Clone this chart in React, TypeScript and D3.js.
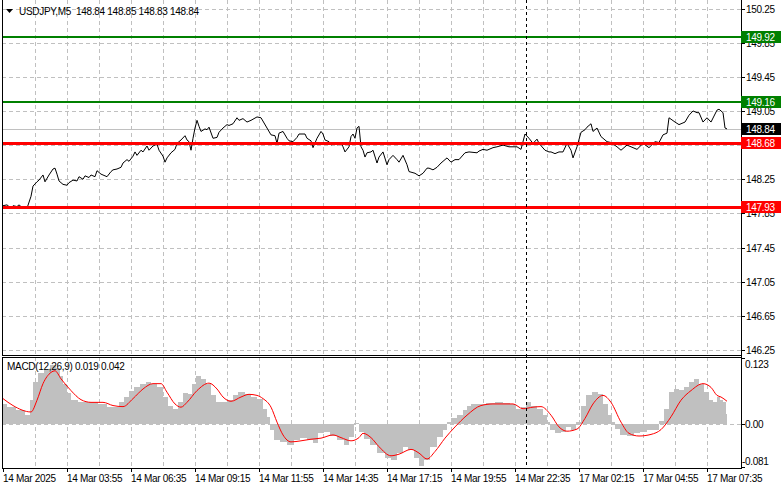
import React from 'react';
import * as d3 from 'd3';

// ---------- DATA ----------
const symbolTitle = 'USDJPY,M5';
const ohlcValues = ['148.84', '148.85', '148.83', '148.84'];
const macdTitle = 'MACD(12,26,9) 0.019 0.042';

const priceTicks = [150.25, 149.85, 149.45, 149.05, 148.65, 148.25, 147.85, 147.45, 147.05, 146.65, 146.25];
const timeLabels = [
  '14 Mar 2025', '14 Mar 03:55', '14 Mar 06:35', '14 Mar 09:15', '14 Mar 11:55', '14 Mar 14:35',
  '14 Mar 17:15', '14 Mar 19:55', '14 Mar 22:35', '17 Mar 02:15', '17 Mar 04:55', '17 Mar 07:35',
];
const timeLabelBars = [0, 32, 64, 96, 128, 160, 192, 224, 256, 288, 320, 352];
const gridBars = [16, 32, 48, 64, 80, 96, 112, 128, 144, 160, 176, 192, 208, 224, 240, 256, 272, 288, 304, 320, 336, 352];

const resistanceLevels = [149.92, 149.16];
const supportLevels = [148.68, 147.93];
const lastPrice = 148.84;
const markerBar = 261.4;

// [bar index, close]
const pricePoints: [number, number][] = [
  [0, 147.94], [2, 147.95], [4, 147.91], [5, 147.94], [7, 147.93], [8, 147.95], [10, 147.91], [11, 147.93], [12, 147.91],
  [14, 148.05], [15, 148.17], [17, 148.22], [18, 148.24], [20, 148.30], [21, 148.22], [23, 148.30], [25, 148.37], [26, 148.38],
  [27, 148.31], [28, 148.23], [30, 148.19], [32, 148.18], [33, 148.21], [35, 148.24], [37, 148.23], [38, 148.28], [40, 148.25],
  [41, 148.29], [43, 148.27], [44, 148.30], [46, 148.28], [47, 148.35], [49, 148.31], [52, 148.28], [54, 148.34], [55, 148.36],
  [57, 148.37], [59, 148.39], [60, 148.44], [62, 148.48], [63, 148.46], [65, 148.52], [66, 148.57], [67, 148.53], [69, 148.59],
  [70, 148.57], [72, 148.64], [73, 148.59], [75, 148.64], [77, 148.66], [78, 148.59], [80, 148.52], [81, 148.45], [82, 148.50],
  [84, 148.56], [86, 148.60], [87, 148.67], [89, 148.71], [91, 148.76], [92, 148.71], [93, 148.69], [94, 148.59], [95, 148.73],
  [96, 148.85], [97, 148.94], [98, 148.87], [99, 148.81], [101, 148.84], [102, 148.83], [103, 148.86], [105, 148.73], [107, 148.74],
  [108, 148.80], [110, 148.85], [112, 148.89], [113, 148.88], [115, 148.90], [117, 148.97], [118, 148.94], [120, 148.96], [122, 148.92],
  [124, 148.94], [127, 148.98], [129, 148.97], [132, 148.85], [134, 148.77], [136, 148.76], [137, 148.67], [138, 148.79], [140, 148.81],
  [142, 148.73], [143, 148.70], [145, 148.69], [147, 148.74], [148, 148.78], [151, 148.78], [152, 148.73], [154, 148.70], [155, 148.62],
  [157, 148.73], [159, 148.81], [160, 148.78], [161, 148.71], [163, 148.69], [164, 148.65], [166, 148.68], [167, 148.65], [169, 148.68],
  [170, 148.63], [171, 148.57], [173, 148.63], [174, 148.75], [175, 148.78], [176, 148.73], [177, 148.85], [178, 148.87], [179, 148.63],
  [180, 148.59], [181, 148.51], [182, 148.56], [184, 148.57], [185, 148.59], [187, 148.44], [188, 148.51], [190, 148.57], [192, 148.42],
  [193, 148.48], [195, 148.53], [197, 148.48], [198, 148.45], [200, 148.53], [202, 148.42], [203, 148.34], [206, 148.32], [208, 148.29],
  [210, 148.32], [212, 148.38], [213, 148.38], [215, 148.36], [217, 148.39], [219, 148.44], [221, 148.48], [222, 148.50], [224, 148.45],
  [226, 148.48], [228, 148.48], [231, 148.56], [233, 148.57], [237, 148.56], [238, 148.58], [240, 148.60], [242, 148.59], [245, 148.62],
  [247, 148.63], [250, 148.65], [253, 148.63], [257, 148.63], [259, 148.60], [261, 148.78], [263, 148.73], [265, 148.67], [267, 148.72],
  [268, 148.67], [271, 148.59], [273, 148.57], [274, 148.57], [276, 148.55], [278, 148.57], [280, 148.57], [282, 148.67], [284, 148.59],
  [285, 148.50], [287, 148.63], [289, 148.80], [291, 148.83], [292, 148.86], [294, 148.90], [295, 148.81], [297, 148.85], [299, 148.75],
  [302, 148.69], [304, 148.68], [307, 148.63], [309, 148.59], [312, 148.65], [314, 148.63], [317, 148.60], [320, 148.67], [323, 148.62],
  [326, 148.69], [328, 148.68], [330, 148.77], [332, 148.79], [333, 148.97], [336, 148.92], [338, 148.89], [341, 148.92], [343, 149.00],
  [345, 149.05], [347, 149.03], [348, 149.03], [350, 148.92], [352, 148.97], [354, 148.92], [357, 149.06], [358, 149.07], [360, 149.03],
  [361, 148.85], [362, 148.84],
];

// [bar index, MACD main (histogram)]
const macdHistPoints: [number, number][] = [
  [0, 0.037], [4, 0.031], [9, 0.025], [13, 0.016], [14, 0.044], [16, 0.078], [19, 0.094], [22, 0.103], [25, 0.110], [28, 0.105],
  [29, 0.090], [31, 0.075], [33, 0.057], [35, 0.044], [40, 0.040], [45, 0.040], [50, 0.037], [54, 0.032], [57, 0.032], [59, 0.040],
  [62, 0.050], [64, 0.062], [67, 0.068], [70, 0.075], [73, 0.079], [75, 0.075], [79, 0.068], [81, 0.050], [84, 0.034], [86, 0.028],
  [89, 0.040], [91, 0.057], [94, 0.056], [95, 0.075], [98, 0.090], [100, 0.084], [103, 0.075], [105, 0.053], [108, 0.040], [110, 0.040],
  [114, 0.044], [116, 0.053], [119, 0.059], [123, 0.056], [125, 0.050], [129, 0.047], [131, 0.028], [133, 0.013], [134, -0.012],
  [137, -0.031], [140, -0.034], [144, -0.040], [147, -0.031], [150, -0.026], [154, -0.031], [156, -0.037], [159, -0.017], [162, -0.015],
  [165, -0.023], [169, -0.031], [172, -0.040], [174, -0.024], [177, 0.002], [179, -0.015], [182, -0.028], [185, -0.040], [189, -0.055],
  [193, -0.064], [195, -0.068], [199, -0.055], [201, -0.043], [204, -0.049], [207, -0.065], [209, -0.079], [212, -0.068], [215, -0.043],
  [219, -0.024], [221, -0.012], [223, 0.003], [225, 0.010], [229, 0.016], [231, 0.025], [233, 0.034], [235, 0.037], [239, 0.037],
  [244, 0.039], [248, 0.040], [252, 0.039], [255, 0.037], [258, 0.028], [260, 0.031], [263, 0.040], [265, 0.034], [269, 0.028],
  [271, 0.016], [273, 0.003], [274, -0.012], [278, -0.018], [280, -0.015], [283, -0.006], [285, -0.012], [288, 0.003], [290, 0.034],
  [293, 0.053], [296, 0.059], [299, 0.056], [301, 0.037], [304, 0.016], [305, 0.003], [307, -0.009], [310, -0.021], [314, -0.023],
  [317, -0.018], [320, -0.015], [324, -0.012], [327, -0.012], [329, 0.006], [332, 0.028], [334, 0.059], [337, 0.065], [339, 0.063],
  [342, 0.068], [344, 0.078], [347, 0.084], [349, 0.074], [352, 0.059], [354, 0.044], [356, 0.040], [358, 0.050], [359, 0.044],
  [361, 0.040], [362, 0.019],
];

// [bar index, MACD signal]
const macdSignalPoints: [number, number][] = [
  [0, 0.047], [5, 0.034], [14, 0.022], [17, 0.044], [20, 0.075], [24, 0.096], [26, 0.099], [29, 0.084], [34, 0.062], [39, 0.045],
  [44, 0.040], [50, 0.040], [55, 0.034], [60, 0.032], [65, 0.047], [70, 0.065], [75, 0.075], [79, 0.075], [82, 0.059], [86, 0.037],
  [89, 0.031], [92, 0.040], [97, 0.062], [103, 0.076], [107, 0.065], [110, 0.050], [114, 0.042], [119, 0.050], [123, 0.055],
  [127, 0.053], [130, 0.047], [134, 0.031], [137, 0.003], [140, -0.021], [144, -0.034], [149, -0.032], [154, -0.029], [159, -0.027],
  [165, -0.021], [169, -0.026], [174, -0.032], [178, -0.026], [180, -0.018], [184, -0.026], [188, -0.043], [194, -0.060], [198, -0.057],
  [204, -0.048], [208, -0.055], [212, -0.066], [216, -0.052], [221, -0.027], [226, -0.006], [232, 0.016], [239, 0.034], [245, 0.037],
  [255, 0.037], [260, 0.028], [265, 0.031], [269, 0.032], [274, 0.016], [278, -0.006], [282, -0.014], [287, -0.010], [291, 0.010],
  [295, 0.037], [300, 0.053], [304, 0.040], [309, 0.003], [313, -0.018], [318, -0.023], [324, -0.020], [329, -0.011], [334, 0.013],
  [339, 0.044], [344, 0.062], [350, 0.075], [354, 0.068], [357, 0.053], [359, 0.050], [362, 0.042],
];

const macdTicks = [0.123, 0, -0.081];
const macdTickLabels = ['0.123', '0.00', '-0.081'];

// ---------- CHART ----------
const W = 781;
const H = 489;
const FONT = '"Liberation Sans", Arial, sans-serif';

export default function App() {
  const left = 2;
  const axisX = 741;
  const mainBottom = 355;
  const macdTop = 357;
  const macdBottom = 468;

  const x = d3.scaleLinear().domain([0, 362]).range([3, 727]);
  const y = d3.scaleLinear().domain([146.25, 150.25]).range([350, 8.5]);
  const ym = d3.scaleLinear().domain([-0.081, 0.123]).range([macdBottom - 1, macdTop + 1]);

  const priceLine = d3.line<[number, number]>()
    .x((d) => x(d[0]))
    .y((d) => y(d[1]))
    .curve(d3.curveLinear)(pricePoints) as string;

  const histArea = d3.area<[number, number]>()
    .x((d) => x(d[0]))
    .y0(ym(0))
    .y1((d) => ym(d[1]))
    .curve(d3.curveStep)(macdHistPoints) as string;

  const signalLine = d3.line<[number, number]>()
    .x((d) => x(d[0]))
    .y((d) => ym(d[1]))
    .curve(d3.curveMonotoneX)(macdSignalPoints) as string;

  const grid = '#c0c0c0';
  const dash = '4,3';
  const green = '#008000';
  const red = '#ff0000';

  const levelBox = (p: number, bg: string, key: string) => {
    const cy = Math.round(y(p));
    return (
      <g key={key}>
        <rect x={axisX} y={cy - 6} width={W - axisX} height={12} fill={bg} />
        <text x={746} y={cy + 4} fill="#ffffff" fontSize={10} letterSpacing={-0.3} fontFamily={FONT}>
          {p.toFixed(2)}
        </text>
      </g>
    );
  };

  return (
    <svg
      width={W}
      height={H}
      style={{ position: 'fixed', left: 0, top: 0, display: 'block', background: '#ffffff' }}
      shapeRendering="crispEdges"
    >
      <rect x={0} y={0} width={W} height={H} fill="#ffffff" />

      {/* main grid */}
      {priceTicks.map((p) => (
        <line key={'hg' + p} x1={left} x2={axisX} y1={Math.round(y(p)) + 0.5} y2={Math.round(y(p)) + 0.5}
          stroke={grid} strokeDasharray={dash} />
      ))}
      {gridBars.map((b) => (
        <line key={'vg' + b} x1={Math.round(x(b)) + 0.5} x2={Math.round(x(b)) + 0.5} y1={0} y2={mainBottom}
          stroke={grid} strokeDasharray={dash} />
      ))}
      {gridBars.map((b) => (
        <line key={'vgm' + b} x1={Math.round(x(b)) + 0.5} x2={Math.round(x(b)) + 0.5} y1={macdTop} y2={macdBottom}
          stroke={grid} strokeDasharray={dash} />
      ))}

      {/* bid line */}
      <line x1={left} x2={axisX} y1={Math.round(y(lastPrice)) + 0.5} y2={Math.round(y(lastPrice)) + 0.5} stroke="#c0c0c0" />

      {/* price */}
      <path d={priceLine} fill="none" stroke="#000000" strokeWidth={1} shapeRendering="auto" />

      {/* levels */}
      {resistanceLevels.map((p) => (
        <line key={'r' + p} x1={left} x2={axisX} y1={Math.round(y(p))} y2={Math.round(y(p))} stroke={green} strokeWidth={2} />
      ))}
      {supportLevels.map((p) => (
        <line key={'s' + p} x1={left} x2={axisX} y1={Math.round(y(p)) + 0.5} y2={Math.round(y(p)) + 0.5} stroke={red} strokeWidth={3} />
      ))}

      {/* MACD */}
      <line x1={left} x2={axisX} y1={Math.round(ym(0)) + 0.5} y2={Math.round(ym(0)) + 0.5} stroke={grid} strokeDasharray={dash} />
      <path d={histArea} fill="#c0c0c0" stroke="none" />
      <path d={signalLine} fill="none" stroke={red} strokeWidth={1} shapeRendering="auto" />

      {/* marker vertical */}
      <line x1={Math.round(x(markerBar)) + 0.5} x2={Math.round(x(markerBar)) + 0.5} y1={0} y2={macdBottom}
        stroke="#000000" strokeDasharray="3,3" />

      {/* frames */}
      <line x1={left + 0.5} x2={left + 0.5} y1={0} y2={mainBottom} stroke="#000" />
      <line x1={left} x2={axisX + 1} y1={mainBottom + 0.5} y2={mainBottom + 0.5} stroke="#000" />
      <rect x={left + 0.5} y={macdTop + 0.5} width={axisX - left} height={macdBottom - macdTop} fill="none" stroke="#000" />
      <line x1={axisX + 0.5} x2={axisX + 0.5} y1={0} y2={macdBottom} stroke="#000" />

      {/* right price axis */}
      {priceTicks.map((p) => (
        <g key={'pt' + p}>
          <line x1={axisX} x2={axisX + 4} y1={Math.round(y(p)) + 0.5} y2={Math.round(y(p)) + 0.5} stroke="#000" />
          <text x={746} y={y(p) + 4} fontSize={10} letterSpacing={-0.3} fontFamily={FONT} fill="#000">
            {p.toFixed(2)}
          </text>
        </g>
      ))}

      {/* level boxes */}
      {resistanceLevels.map((p) => levelBox(p, green, 'rb' + p))}
      {levelBox(lastPrice, '#000000', 'last')}
      {supportLevels.map((p) => levelBox(p, red, 'sb' + p))}

      {/* MACD axis */}
      {macdTicks.map((v, i) => (
        <g key={'mt' + i}>
          <line x1={axisX} x2={axisX + 4} y1={Math.round(ym(v)) + 0.5} y2={Math.round(ym(v)) + 0.5} stroke="#000" />
          <text
            x={v < 0 ? 742 : 745}
            y={i === 0 ? macdTop + 11 : i === 2 ? macdBottom - 3 : ym(v) + 4}
            fontSize={10}
            letterSpacing={-0.3}
            fontFamily={FONT}
            fill="#000"
          >
            {macdTickLabels[i]}
          </text>
        </g>
      ))}

      {/* time axis */}
      {timeLabels.map((t, i) => {
        const tx = Math.round(x(timeLabelBars[i]));
        return (
          <g key={'tl' + i}>
            <line x1={tx + 0.5} x2={tx + 0.5} y1={macdBottom} y2={macdBottom + 4} stroke="#000" />
            <text x={tx} y={482} fontSize={10} letterSpacing={-0.3} fontFamily={FONT} fill="#000">
              {t}
            </text>
          </g>
        );
      })}

      {/* header */}
      <path d="M6,9 L13,9 L9.5,13 Z" fill="#000" shapeRendering="auto" />
      <text x={19} y={15} fontSize={10} letterSpacing={-0.3} fontFamily={FONT} fill="#000" xmlSpace="preserve">
        {symbolTitle + '  ' + ohlcValues.join(' ')}
      </text>
      <text x={7} y={370} fontSize={10} letterSpacing={-0.3} fontFamily={FONT} fill="#000">
        {macdTitle}
      </text>
    </svg>
  );
}
